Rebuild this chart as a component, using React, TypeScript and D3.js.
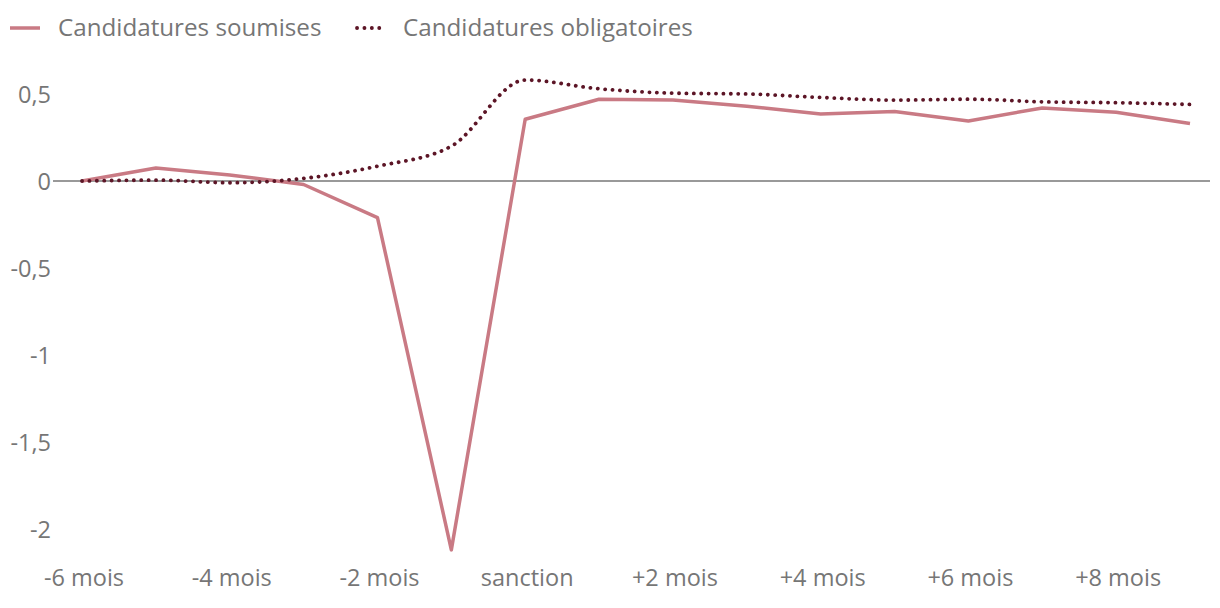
import React from "react";
import * as d3 from "d3";

const months = [-6, -5, -4, -3, -2, -1, 0, 1, 2, 3, 4, 5, 6, 7, 8, 9];
const soumises = [0, 0.075, 0.035, -0.02, -0.21, -2.12, 0.355, 0.47, 0.465, 0.43, 0.385, 0.4, 0.345, 0.42, 0.395, 0.33];
const obligatoires = [0, 0.005, -0.01, 0.015, 0.085, 0.2, 0.58, 0.53, 0.505, 0.5, 0.48, 0.465, 0.47, 0.455, 0.45, 0.44];
const xTicks = [-6, -4, -2, 0, 2, 4, 6, 8];
const xTickLabels = ["-6 mois", "-4 mois", "-2 mois", "sanction", "+2 mois", "+4 mois", "+6 mois", "+8 mois"];
const yTicks = [0.5, 0, -0.5, -1, -1.5, -2];
const yTickLabels = ["0,5", "0", "-0,5", "-1", "-1,5", "-2"];
const seriesNames = ["Candidatures soumises", "Candidatures obligatoires"];

const W = 1220;
const H = 608;
const font = "'Open Sans', 'Noto Sans', sans-serif";
const textColor = "#767676";
const c1 = "#c97a84";
const c2 = "#5c1526";
const fs = 23.5;
const legendFs = 24.2;

export default function App() {
  const x = d3.scaleLinear().domain([-6, 9]).range([82, 1190]);
  const y = d3.scaleLinear().domain([0, 0.5]).range([181, 94]);
  const line1 = d3
    .line<number>()
    .x((_, i) => x(months[i]))
    .y((d) => y(d))
    .curve(d3.curveLinear);
  const line2 = d3
    .line<number>()
    .x((_, i) => x(months[i]))
    .y((d) => y(d))
    .curve(d3.curveMonotoneX);

  return (
    <svg
      width={W}
      height={H}
      style={{ position: "absolute", left: 0, top: 0, fontFamily: font }}
    >
      <rect width={W} height={H} fill="#fff" />
      {/* legend */}
      <line x1={10} x2={40} y1={28} y2={28} stroke={c1} strokeWidth={3.5} />
      <text x={58} y={36} fontSize={legendFs} fill={textColor}>
        {seriesNames[0]}
      </text>
      <line
        x1={357}
        x2={385}
        y1={28}
        y2={28}
        stroke={c2}
        strokeWidth={3.8}
        strokeDasharray="0.1 7.3"
        strokeLinecap="round"
      />
      <text x={403} y={36} fontSize={legendFs} fill={textColor}>
        {seriesNames[1]}
      </text>

      {/* y ticks */}
      {yTicks.map((t, i) => (
        <text
          key={t}
          x={51}
          y={y(t) + 8.5}
          textAnchor="end"
          fontSize={fs}
          fill={textColor}
        >
          {yTickLabels[i]}
        </text>
      ))}
      {/* x ticks */}
      {xTicks.map((t, i) => (
        <text
          key={t}
          x={x(t) + 2}
          y={586}
          textAnchor="middle"
          fontSize={fs}
          fill={textColor}
        >
          {xTickLabels[i]}
        </text>
      ))}
      {/* zero line */}
      <line x1={53} x2={1210} y1={y(0)} y2={y(0)} stroke="#777" strokeWidth={1.5} />

      <path d={line1(soumises) || ""} fill="none" stroke={c1} strokeWidth={3.5} strokeLinejoin="round" />
      <path
        d={line2(obligatoires) || ""}
        fill="none"
        stroke={c2}
        strokeWidth={3.8}
        strokeDasharray="0.1 7.3"
        strokeLinecap="round"
      />
    </svg>
  );
}
